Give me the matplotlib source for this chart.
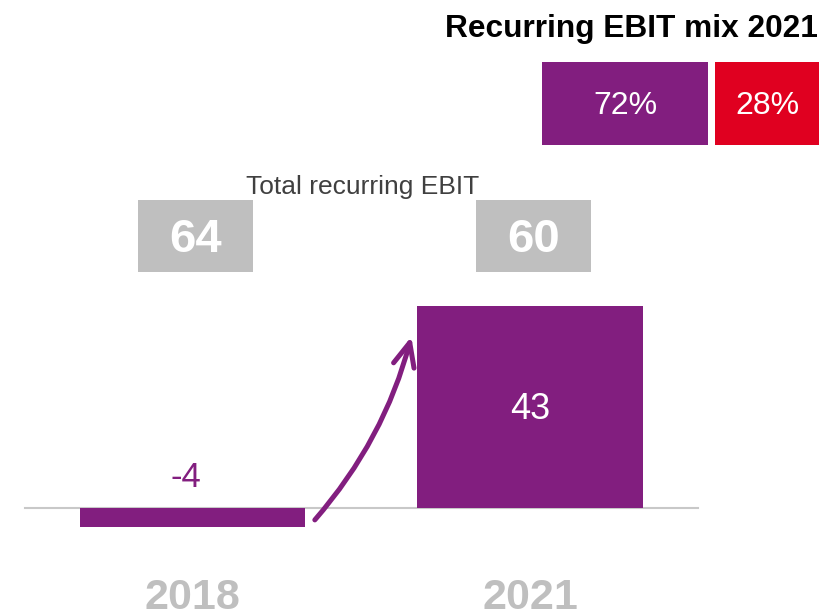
import matplotlib
matplotlib.use("Agg")
from matplotlib import pyplot as plt
from matplotlib.patches import Rectangle, FancyArrowPatch
from matplotlib.transforms import blended_transform_factory

plt.rcParams['font.family'] = ['Liberation Sans', 'DejaVu Sans']

years = ['2018', '2021']
values = [-4, 43]           # recurring EBIT segment
totals = [64, 60]           # total recurring EBIT
mix_labels = ['72%', '28%']

purple = '#821E7F'
red = '#E00020'
grey = '#BFBFBF'

fig = plt.figure(figsize=(8.2, 6.12), dpi=100)
ax = fig.add_axes([0, 0, 1, 1])
ax.set_xlim(-0.570, 1.859)
ax.set_ylim(-22.1, 108.1)
ax.axis('off')

x = list(range(len(years)))
ax.bar(x, values, width=0.667, color=purple, zorder=2)
ax.plot([-0.496, 1.498], [0, 0], color='#C8C8C8', lw=1.5, zorder=1)

# value labels
ax.text(x[0] - 0.02, 6.5, str(values[0]), color=purple, fontsize=25,
        ha='center', va='center')
ax.text(x[1], values[1] / 2 - 0.5, str(values[1]), color='white', fontsize=26,
        ha='center', va='center', zorder=3)

# total boxes
tr = blended_transform_factory(ax.transData, fig.transFigure)
for xi, t in zip(x, totals):
    ax.add_patch(Rectangle((xi + 0.01 - 0.17, 1 - 272 / 612), 0.34, 72 / 612,
                           transform=tr, color=grey, lw=0))
    ax.text(xi + 0.01, 1 - 240 / 612, str(t), transform=tr, color='white',
            fontsize=34, fontweight='bold', ha='center', va='center')
ax.text(363 / 820, 1 - 187 / 612, 'Total recurring EBIT', transform=fig.transFigure,
        color='#404040', fontsize=19, ha='center', va='center')

# year labels
for xi, yr in zip(x, years):
    ax.text(xi, 1 - 598 / 612, yr, transform=tr, color=grey,
            fontsize=31, fontweight='bold', ha='center', va='center')

# arrow
arrow = FancyArrowPatch((313 / 820, 1 - 522 / 612), (412 / 820, 1 - 334 / 612),
                        transform=fig.transFigure, connectionstyle='arc3,rad=0.12',
                        arrowstyle='->,head_length=0.85,head_width=0.38',
                        mutation_scale=20, color=purple, lw=3.6,
                        joinstyle='round', capstyle='round')
fig.patches.append(arrow)

# mix 2021
fig.text(818 / 820, 1 - 29 / 612, 'Recurring EBIT mix 2021', color='black',
         fontsize=22.8, fontweight='bold', ha='right', va='center')
boxes = [(542, 166, purple), (715, 105, red)]
for (bx, bw, c), lab in zip(boxes, mix_labels):
    fig.patches.append(Rectangle((bx / 820, 1 - 145 / 612), bw / 820, 83 / 612,
                                 transform=fig.transFigure, color=c, lw=0))
    fig.text((bx + bw / 2) / 820, 1 - 106 / 612, lab, color='white', fontsize=23,
             ha='center', va='center')

fig.savefig('out.png', dpi=100)
